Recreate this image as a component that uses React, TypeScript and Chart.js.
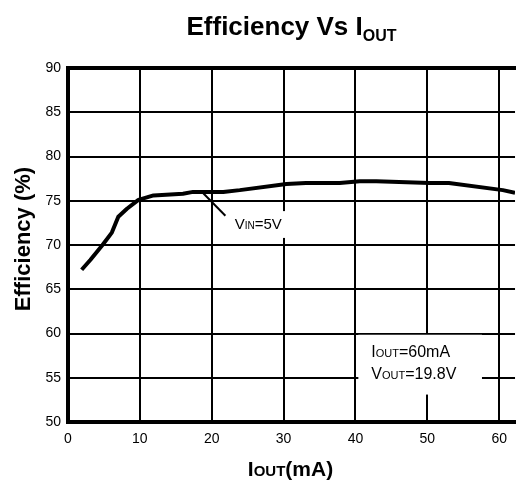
import React, { useEffect, useRef } from "react";
import { Chart, registerables } from "chart.js";

Chart.register(...registerables);

// ---- data ----
const currentMA = [1.9, 3.1, 4.8, 6.1, 7.0, 8.2, 9.8, 11.9, 16.0, 17.4, 21.6, 23.9, 30.4, 33.1, 37.8, 40.6, 42.9, 50.3, 53.0, 60.5, 62.2];
const efficiencyPct = [67.2, 68.3, 70.0, 71.4, 73.2, 74.1, 75.1, 75.6, 75.8, 76.0, 76.0, 76.2, 76.9, 77.0, 77.0, 77.2, 77.2, 77.0, 77.0, 76.2, 75.9];
const xTickValues = [0, 10, 20, 30, 40, 50, 60];
const yTickValues = [50, 55, 60, 65, 70, 75, 80, 85, 90];
const xRange = [0, 62.2];
const yRange = [50, 90];

const FAMILY = "'Liberation Sans', Arial, sans-serif";

type Run = { text: string; size: number; bold?: boolean; dy?: number };

function runsWidth(ctx: CanvasRenderingContext2D, runs: Run[]) {
  let w = 0;
  for (const r of runs) {
    ctx.font = `${r.bold ? "bold " : ""}${r.size}px ${FAMILY}`;
    w += ctx.measureText(r.text).width;
  }
  return w;
}

function drawRuns(ctx: CanvasRenderingContext2D, runs: Run[], x: number, y: number) {
  let cx = x;
  ctx.textBaseline = "alphabetic";
  ctx.textAlign = "left";
  ctx.fillStyle = "#000";
  for (const r of runs) {
    ctx.font = `${r.bold ? "bold " : ""}${r.size}px ${FAMILY}`;
    ctx.fillText(r.text, cx, y + (r.dy || 0));
    cx += ctx.measureText(r.text).width;
  }
}

const decorPlugin = {
  id: "decor",
  afterDatasetsDraw(chart: any) {
    const { ctx, chartArea, scales } = chart;
    const xs = scales.x;
    const ys = scales.y;
    const px = (v: number) => xs.getPixelForValue(v);
    const py = (v: number) => ys.getPixelForValue(v);
    ctx.save();

    // white label backgrounds
    ctx.fillStyle = "#fff";
    ctx.fillRect(px(22.5), py(73.83), px(30.55) - px(22.5), py(70.8) - py(73.83));
    ctx.fillRect(px(40.4), py(59.86), px(57.6) - px(40.4), py(53.1) - py(59.86));

    // leader line
    ctx.strokeStyle = "#000";
    ctx.lineWidth = 2;
    ctx.beginPath();
    ctx.moveTo(px(18.75), py(75.9));
    ctx.lineTo(px(21.9), py(73.3));
    ctx.stroke();

    // frame (left, top, bottom)
    ctx.lineWidth = 4;
    ctx.lineCap = "square";
    ctx.beginPath();
    ctx.moveTo(chartArea.right + 4, chartArea.top);
    ctx.lineTo(chartArea.left, chartArea.top);
    ctx.lineTo(chartArea.left, chartArea.bottom);
    ctx.lineTo(chartArea.right + 4, chartArea.bottom);
    ctx.stroke();

    // annotations
    drawRuns(ctx, [
      { text: "V", size: 15 },
      { text: "IN", size: 10 },
      { text: "=5V", size: 15 },
    ], px(23.2), py(71.8));
    drawRuns(ctx, [
      { text: "I", size: 16 },
      { text: "OUT", size: 11 },
      { text: "=60mA", size: 16 },
    ], px(42.2), py(57.4));
    drawRuns(ctx, [
      { text: "V", size: 16 },
      { text: "OUT", size: 11 },
      { text: "=19.8V", size: 16 },
    ], px(42.2), py(54.9));

    // chart title
    const titleRuns: Run[] = [
      { text: "Efficiency Vs I", size: 26, bold: true },
      { text: "OUT", size: 16, bold: true, dy: 6 },
    ];
    const cxMid = (chartArea.left + chartArea.right) / 2;
    drawRuns(ctx, titleRuns, cxMid - runsWidth(ctx, titleRuns) / 2, 35);

    // x axis title
    const xRuns: Run[] = [
      { text: "I", size: 21, bold: true },
      { text: "OUT", size: 15, bold: true },
      { text: "(mA)", size: 21, bold: true },
    ];
    drawRuns(ctx, xRuns, (xs.left + xs.right) / 2 - runsWidth(ctx, xRuns) / 2 - 1, 476);

    // y axis title
    const yRuns: Run[] = [{ text: "Efficiency (%)", size: 22, bold: true }];
    ctx.translate(30, (chartArea.top + chartArea.bottom) / 2 - 6);
    ctx.rotate(-Math.PI / 2);
    drawRuns(ctx, yRuns, -runsWidth(ctx, yRuns) / 2, 0);

    ctx.restore();
  },
};

export default function App() {
  const ref = useRef<HTMLCanvasElement | null>(null);
  useEffect(() => {
    document.body.style.margin = "0";
    const canvas = ref.current;
    if (!canvas) return;
    const chart = new Chart(canvas, {
      type: "line",
      data: {
        datasets: [
          {
            data: currentMA.map((x, i) => ({ x, y: efficiencyPct[i] })),
            borderColor: "#000",
            borderWidth: 4,
            pointRadius: 0,
            tension: 0,
            fill: false,
            borderJoinStyle: "round",
            borderCapStyle: "butt",
          },
        ],
      },
      options: {
        animation: false,
        responsive: false,
        devicePixelRatio: 1,
        layout: { padding: { top: 68, left: 0, right: 0, bottom: 0 } },
        plugins: {
          legend: { display: false },
          tooltip: { enabled: false },
          title: { display: false },
        },
        scales: {
          x: {
            type: "linear",
            min: xRange[0],
            max: xRange[1],
            afterBuildTicks: (s: any) => {
              s.ticks = xTickValues.map((v) => ({ value: v }));
            },
            afterFit: (s: any) => {
              s.height = 60;
            },
            ticks: {
              color: "#000",
              font: { family: FAMILY, size: 14 },
              padding: 9,
              maxRotation: 0,
              autoSkip: false,
            },
            grid: { color: "#000", lineWidth: 2, drawTicks: false },
            border: { display: false },
          },
          y: {
            type: "linear",
            min: yRange[0],
            max: yRange[1],
            afterBuildTicks: (s: any) => {
              s.ticks = yTickValues.map((v) => ({ value: v }));
            },
            afterFit: (s: any) => {
              s.width = 68;
            },
            ticks: {
              color: "#000",
              font: { family: FAMILY, size: 14 },
              padding: 7,
              autoSkip: false,
            },
            grid: { color: "#000", lineWidth: 2, drawTicks: false },
            border: { display: false },
          },
        },
      },
      plugins: [decorPlugin],
    } as any);
    return () => chart.destroy();
  }, []);
  return (
    <div style={{ width: 516, height: 482, position: "relative" }}>
      <canvas ref={ref} width={516} height={482} style={{ display: "block" }} />
    </div>
  );
}
